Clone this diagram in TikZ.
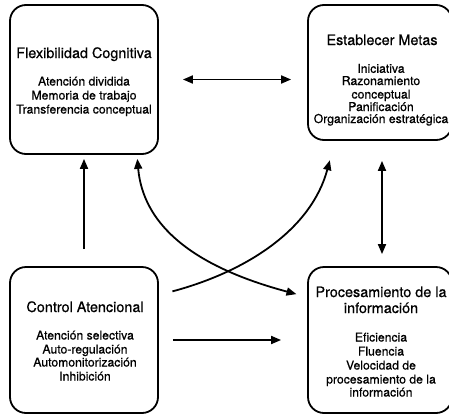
\documentclass[tikz,border=0pt]{standalone}
\usepackage{fontspec}
\setmainfont{TeX Gyre Heros}[FakeBold=0.6]
\usetikzlibrary{arrows.meta}
\begin{document}
\begin{tikzpicture}[x=1pt,y=-1pt,
  box/.style={draw, line width=1.8pt, rounded corners=16pt, inner sep=0pt},
  ttl/.style={font=\fontsize{14.4}{16}\selectfont, anchor=base, inner sep=0pt},
  itm/.style={font=\fontsize{12.2}{14}\selectfont, anchor=base, inner sep=0pt},
  tip/.tip={Triangle[length=10pt,width=8pt]},
  con/.style={line width=1.8pt, -tip},
  dcon/.style={line width=1.8pt, tip-tip}]
\useasboundingbox (0,0) rectangle (449,415);
% boxes
\node[box, minimum width=148pt, minimum height=149pt] (b1) at (84,79.5) {};
\node[box, minimum width=144pt, minimum height=135pt] (b2) at (380,72.5) {};
\node[box, minimum width=148pt, minimum height=146pt] (b3) at (84,340) {};
\node[box, minimum width=144pt, minimum height=146pt] (b4) at (380,340) {};
% texts box 1
\node[ttl] (t1) at (84,58) {Flexibilidad Cognitiva};
\node[itm] (t1a) at (84,85.5) {Atención dividida};
\node[itm] (t1b) at (84,99.5) {Memoria de trabajo};
\node[itm] (t1c) at (84,113.5) {Transferencia conceptual};
% texts box 2
\node[ttl] (t2) at (382,45) {Establecer Metas};
\node[itm] (t2a) at (381,72.8) {Iniciativa};
\node[itm] (t2b) at (381,85) {Razonamiento};
\node[itm] (t2c) at (381,98.5) {conceptual};
\node[itm] (t2d) at (381,111) {Panificación};
\node[itm] (t2e) at (381,123) {Organización estratégica};
% texts box 3
\node[ttl] (t3) at (85,312) {Control Atencional};
\node[itm] (t3a) at (85,339.5) {Atención selectiva};
\node[itm] (t3b) at (85,353.5) {Auto-regulación};
\node[itm] (t3c) at (85,366.5) {Automonitorización};
\node[itm] (t3d) at (85,380.5) {Inhibición};
% texts box 4
\node[ttl] (t4) at (381,297) {Procesamiento de la};
\node[ttl] (t4b) at (381,313) {información};
\node[itm] (t4c) at (381,341.5) {Eficiencia};
\node[itm] (t4d) at (381,355.5) {Fluencia};
\node[itm] (t4e) at (381,369.5) {Velocidad de};
\node[itm] (t4f) at (381,383.5) {procesamiento de la};
\node[itm] (t4g) at (381,396.5) {información};
% connectors
\draw[dcon, shorten <=24pt, shorten >=16pt] (b1.east) -- (b1.east -| b2.west);
\draw[con, shorten <=17pt, shorten >=4pt] (b3.north) -- (b1.south);
\draw[dcon, shorten <=20pt, shorten >=12pt] ([xshift=2pt]b2.south) -- ([xshift=2pt]b4.north);
\draw[con, shorten <=14pt, shorten >=26pt] (b3.east) -- (b4.west);
\draw[con, shorten <=14pt, shorten >=20pt] ([yshift=45pt]b3.east) to[out=15,in=255] ([xshift=-45pt]b2.south);
\draw[dcon, shorten <=4pt, shorten >=11pt] ([xshift=53pt]b1.south) to[out=-85,in=165] ([yshift=43pt]b4.west);
\end{tikzpicture}
\end{document}
